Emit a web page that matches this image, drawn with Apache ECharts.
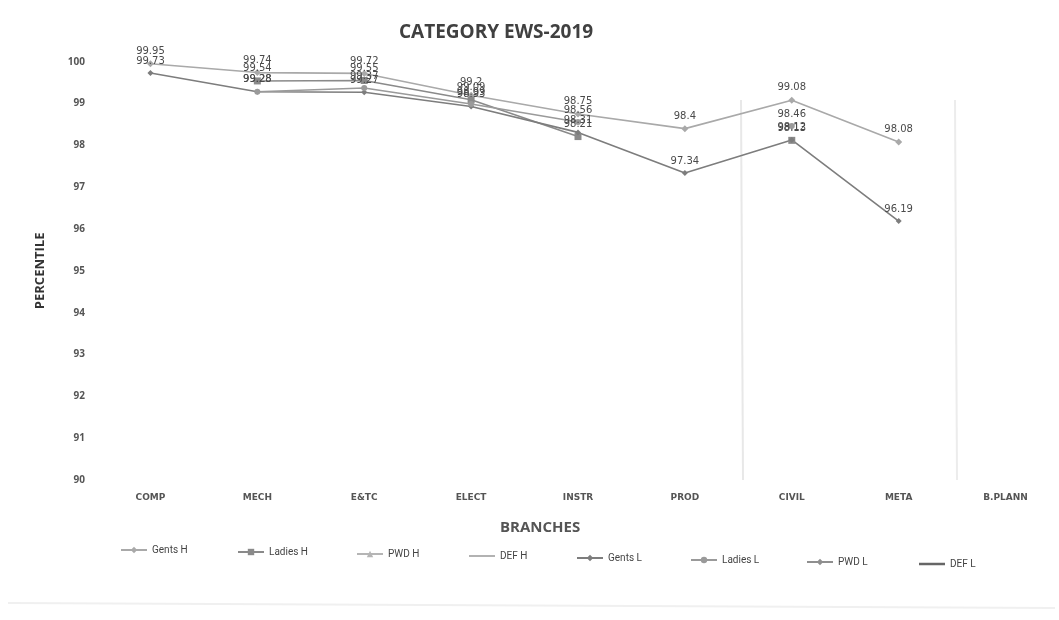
<!DOCTYPE html>
<html>
<head>
<meta charset="utf-8">
<title>CATEGORY EWS-2019</title>
<script src="https://cdn.jsdelivr.net/npm/echarts@6/dist/echarts.min.js"></script>
<style>
	html, body { margin: 0; padding: 0; background: #fff; }
	#echarts_ews { width: 1059px; height: 620px; }
</style>
</head>
<body>
<div id="echarts_ews"></div>
<script>
// branches (x axis)
var branches = ['COMP', 'MECH', 'E&TC', 'ELECT', 'INSTR', 'PROD', 'CIVIL', 'META', 'B.PLANN'];
var yTicks = [90, 91, 92, 93, 94, 95, 96, 97, 98, 99, 100];
var seriesNames = ['Gents H', 'Ladies H', 'PWD H', 'DEF H', 'Gents L', 'Ladies L', 'PWD L', 'DEF L'];

// values (null = no value)
var gentsH  = [99.95, 99.74, 99.72, 99.2, 98.75, 98.4, 99.08, 98.08, null];
var ladiesH = [null, 99.54, 99.55, 99.09, 98.21, null, 98.12, null, null];
var pwdH    = [null, null, null, null, null, null, null, null, null];
var defH    = [null, null, null, null, null, null, null, null, null];
var gentsL  = [99.73, 99.28, 99.27, 98.93, 98.31, 97.34, 98.13, 96.19, null];
var ladiesL = [null, 99.28, 99.37, 98.99, 98.56, null, 98.46, null, null];
var pwdL    = [null, null, null, null, null, null, null, null, null];
var defL    = [null, null, null, null, null, null, null, null, null];

var legendX = [115, 232, 351, 464, 571, 685, 801, 914];
var legendY = [540, 542, 544, 546, 548, 550, 552, 554];

initChart();

function makeSeries(name, data, color, symbol, size) {
	return {
		name: name,
		type: 'line',
		data: data,
		symbol: symbol,
		symbolSize: size,
		showSymbol: true,
		connectNulls: false,
		lineStyle: { color: color, width: 1.6 },
		itemStyle: { color: color },
		label: {
			show: true,
			position: 'top',
			distance: 4,
			color: '#4a4a4a',
			fontSize: 10,
			fontFamily: 'DejaVu Sans'
		},
		labelLayout: { moveOverlap: 'shiftY' },
		emphasis: { disabled: true }
	};
}

function initChart() {
	var myChart = echarts.init(document.getElementById('echarts_ews'));

	var legends = [];
	for (var i = 0; i < seriesNames.length; i++) {
		var lg = {
			data: [seriesNames[i]],
			left: legendX[i],
			top: legendY[i],
			itemWidth: 26,
			itemHeight: 8,
			itemGap: 4,
			textStyle: { color: '#444', fontSize: 10, fontFamily: 'Liberation Sans Narrow, Roboto' }
		};
		// DEF series have no marker: plain line in the legend
		if (seriesNames[i].indexOf('DEF') === 0) {
			lg.icon = 'rect';
			lg.itemHeight = (i === 3) ? 1.5 : 2.5;
		}
		legends.push(lg);
	}

	var option = {
		backgroundColor: '#fff',
		animation: false,
		title: [
			{
				text: 'CATEGORY EWS-2019',
				left: 394,
				top: 18,
				textStyle: { color: '#404040', fontSize: 19, fontWeight: 'bold', fontFamily: 'Open Sans' }
			},
			{
				text: 'BRANCHES',
				left: 495,
				top: 515,
				textStyle: { color: '#555', fontSize: 15, fontWeight: 'bold', fontFamily: 'Open Sans' }
			}
		],
		legend: legends,
		grid: {
			left: 97,
			top: 61.7,
			width: 968,
			height: 418.3
		},
		xAxis: {
			type: 'category',
			data: branches,
			boundaryGap: true,
			axisLine: { show: false },
			axisTick: { show: false },
			axisLabel: {
				margin: 13,
				color: '#555',
				fontSize: 9,
				fontWeight: 'bold',
				fontFamily: 'DejaVu Sans'
			}
		},
		yAxis: {
			type: 'value',
			min: yTicks[0],
			max: yTicks[yTicks.length - 1],
			interval: 1,
			name: 'PERCENTILE',
			nameLocation: 'middle',
			nameGap: 50,
			nameTextStyle: { color: '#333', fontSize: 13, fontWeight: 'bold', fontFamily: 'Open Sans' },
			axisLine: { show: false },
			axisTick: { show: false },
			splitLine: { show: false },
			axisLabel: {
				margin: 12,
				color: '#555',
				fontSize: 10,
				fontWeight: 'bold',
				fontFamily: 'Open Sans'
			}
		},
		graphic: [
			// faint scan lines of the original
			{ type: 'line', shape: { x1: 741, y1: 100, x2: 743, y2: 480 }, style: { stroke: '#e8e8e8', lineWidth: 2 }, silent: true },
			{ type: 'line', shape: { x1: 955, y1: 100, x2: 957, y2: 480 }, style: { stroke: '#ececec', lineWidth: 2 }, silent: true },
			{ type: 'line', shape: { x1: 8, y1: 603, x2: 1055, y2: 608 }, style: { stroke: '#f0f0f0', lineWidth: 2 }, silent: true }
		],
		series: [
			makeSeries(seriesNames[0], gentsH, '#a9a9a9', 'diamond', 7),
			makeSeries(seriesNames[1], ladiesH, '#8a8a8a', 'rect', 7),
			makeSeries(seriesNames[2], pwdH, '#b5b5b5', 'triangle', 7),
			makeSeries(seriesNames[3], defH, '#999', 'none', 4),
			makeSeries(seriesNames[4], gentsL, '#7d7d7d', 'diamond', 6),
			makeSeries(seriesNames[5], ladiesL, '#9a9a9a', 'circle', 6),
			makeSeries(seriesNames[6], pwdL, '#8f8f8f', 'diamond', 5),
			makeSeries(seriesNames[7], defL, '#666', 'none', 4)
		]
	};

	myChart.setOption(option);
	window.addEventListener('resize', function () {
		myChart.resize();
	});
}
</script>
</body>
</html>
